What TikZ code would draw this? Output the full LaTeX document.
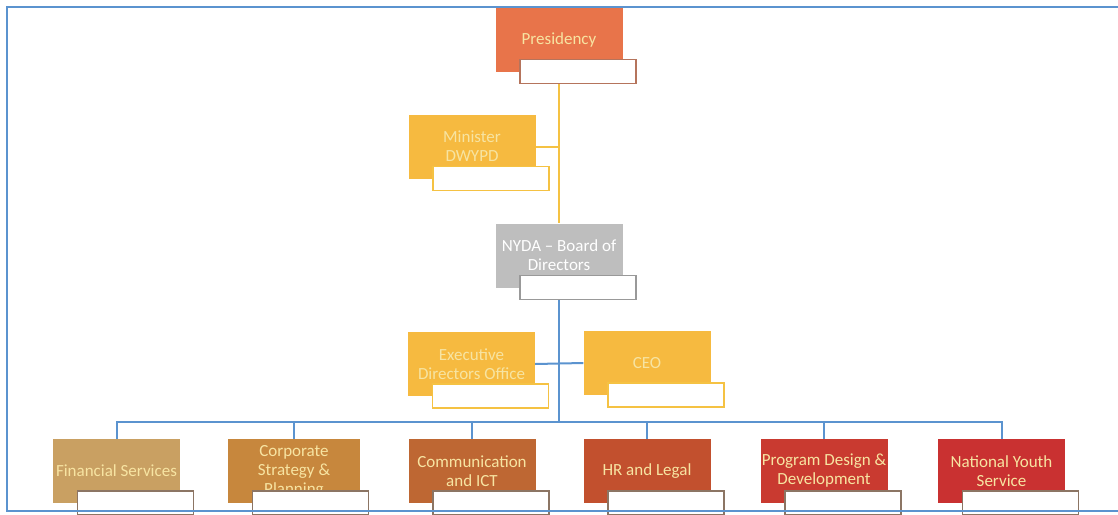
\documentclass[tikz,border=0pt]{standalone}
\usepackage{fontspec}
\setmainfont{Carlito}
\usepackage{tikz}
\usetikzlibrary{calc, positioning}
\definecolor{presred}{HTML}{E8744A}
\definecolor{amber}{HTML}{F6BA40}
\definecolor{boardgrey}{HTML}{BEBEBE}
\definecolor{tanbox}{HTML}{C9A062}
\definecolor{ochre}{HTML}{C7873D}
\definecolor{rust}{HTML}{BE6733}
\definecolor{brick}{HTML}{C2502E}
\definecolor{crimson}{HTML}{C93A30}
\definecolor{scarlet}{HTML}{C93131}
\definecolor{paletext}{HTML}{F7E4A2}
\definecolor{lineblue}{HTML}{5B93CF}
\definecolor{linegold}{HTML}{F5C243}
\definecolor{tagbrown}{HTML}{8C7564}

\begin{document}
\begin{tikzpicture}[
    x=1pt, y=-1pt,
    every node/.style={rectangle, minimum width=127pt, minimum height=64pt, inner sep=0pt, align=center, font=\fontsize{17}{19}\selectfont, text=paletext},
    tag/.style={draw=#1, line width=1.6pt, fill=white, minimum width=116pt, minimum height=24pt, anchor=north west},
    goldline/.style={line width=2pt, draw=linegold},
    blueline/.style={line width=2pt, draw=lineblue}
]
\useasboundingbox (0,0) rectangle (1118,514);

\node[fill=presred] (pres) at (559,39.5) {Presidency};
\node[tag=presred!70!black!80] (prestag) at ([shift={(24,-13)}]pres.south west) {};
\node[fill=amber] (min) at (472,146.5) {Minister\\DWYPD};
\node[tag=linegold] (mintag) at ([shift={(24,-13)}]min.south west) {};
\node[fill=boardgrey, text=white] (nyda) at (559,255.5) {NYDA -- Board of\\Directors};
\node[tag=black!40] (nydatag) at ([shift={(24,-13)}]nyda.south west) {};
\node[fill=amber] (edo) at (471.5,364) {Executive\\Directors Office};
\node[tag=linegold] (edotag) at ([shift={(24,-13)}]edo.south west) {};
\node[fill=amber] (ceo) at (647,363) {CEO};
\node[tag=linegold] (ceotag) at ([shift={(24,-13)}]ceo.south west) {};

\node[fill=tanbox] (fin) at (116.5,471) {Financial Services};
\node[fill=ochre, minimum width=132pt] (csp) at (294,471) {Corporate\\Strategy \&\\Planning};
\node[fill=rust] (com) at (472,471) {Communication\\and ICT};
\node[fill=brick] (hr) at (647,471) {HR and Legal};
\node[fill=crimson] (pdd) at (824,471) {Program Design \&\\Development};
\node[fill=scarlet] (nys) at (1001.5,471) {National Youth\\Service};
\foreach \b in {fin,csp,com,hr,pdd,nys}
  \node[tag=tagbrown] (\b tag) at ([shift={(24,-13)}]\b.south west) {};

\coordinate (bus) at (559,422);
\draw[goldline] (pres.center |- prestag.south) -- (nyda.north);
\draw[goldline] (min.east) -- (min.east -| pres.center);
\draw[blueline] (nyda.center |- nydatag.south) -- (bus);
\draw[blueline] (edo.east) -- (ceo.west);
\draw[blueline] (fin.north) |- (bus) -| (nys.north);
\foreach \b in {csp,com,hr,pdd}
  \draw[blueline] (\b.north) -- (\b.north |- bus);

\draw[blueline] (1118,7) -| (7,511) -- (1118,511);
\end{tikzpicture}
\end{document}
